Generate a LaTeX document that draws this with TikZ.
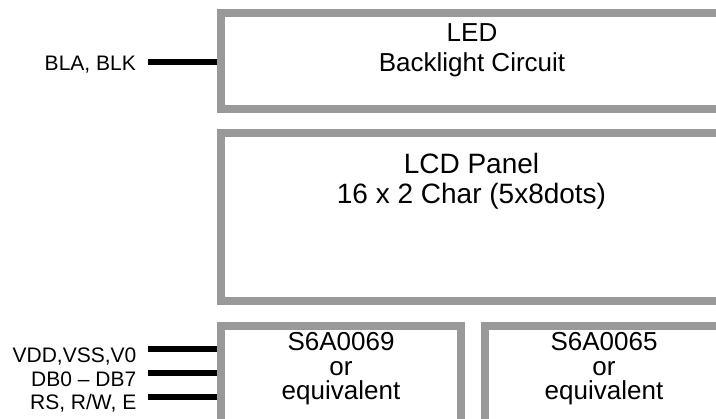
\documentclass[tikz,border=0pt]{standalone}
\usepackage{fontspec}
\setmainfont{Liberation Sans}
\definecolor{boxgray}{RGB}{153,153,153}
\begin{document}
\begin{tikzpicture}[x=1pt,y=-1pt,
  blockbox/.style={draw=boxgray, line width=8pt, rectangle, inner sep=0pt},
  wire/.style={draw=black, line width=6pt, line cap=butt},
  pinlabel/.style={anchor=base east, inner sep=0pt, font=\fontsize{21}{23.7}\selectfont},
  boxtext/.style={anchor=base, inner sep=0pt, align=center}]
\useasboundingbox (0,0) rectangle (716,419);
\clip (0,0) rectangle (716,419);
% blocks
\node[blockbox, minimum width=503pt, minimum height=95.5pt] (led) at (472.5,61.25) {};
\node[blockbox, minimum width=503pt, minimum height=167.5pt] (lcd) at (472.5,217.25) {};
\node[blockbox, minimum width=240pt, minimum height=97.3pt] (ctrl) at (341,374.35) {};
\node[blockbox, minimum width=240pt, minimum height=97.3pt] (drv) at (605,374.35) {};
% block texts (base anchor = baseline of the last line)
\node[boxtext, font=\fontsize{26}{30.3}\selectfont] (ledtxt) at (472,72) {LED\\Backlight Circuit};
\node[boxtext, font=\fontsize{28}{30}\selectfont] (lcdtxt) at (471.5,203.3) {LCD Panel\\16 x 2 Char (5x8dots)};
\node[boxtext, font=\fontsize{26}{24.5}\selectfont] (ctrltxt) at (341,400) {S6A0069\\or\\equivalent};
\node[boxtext, font=\fontsize{26}{24.5}\selectfont] (drvtxt) at (604,400) {S6A0065\\or\\equivalent};
% pin labels
\node[pinlabel] (bla) at (136,71) {BLA, BLK};
\node[pinlabel] (vdd) at (136.5,362.7) {VDD,VSS,V0};
\node[pinlabel] (db) at (136.5,386.3) {DB0 – DB7};
\node[pinlabel] (rs) at (136.5,410) {RS, R/W, E};
% wires
\coordinate (w0) at (148.3,61.7);
\coordinate (w1) at (148.3,349);
\coordinate (w2) at (148.3,373.3);
\coordinate (w3) at (148.3,397.3);
\draw[wire] (w0) -- (w0 -| led.west);
\draw[wire] (w1) -- (w1 -| ctrl.west);
\draw[wire] (w2) -- (w2 -| ctrl.west);
\draw[wire] (w3) -- (w3 -| ctrl.west);
\end{tikzpicture}
\end{document}
